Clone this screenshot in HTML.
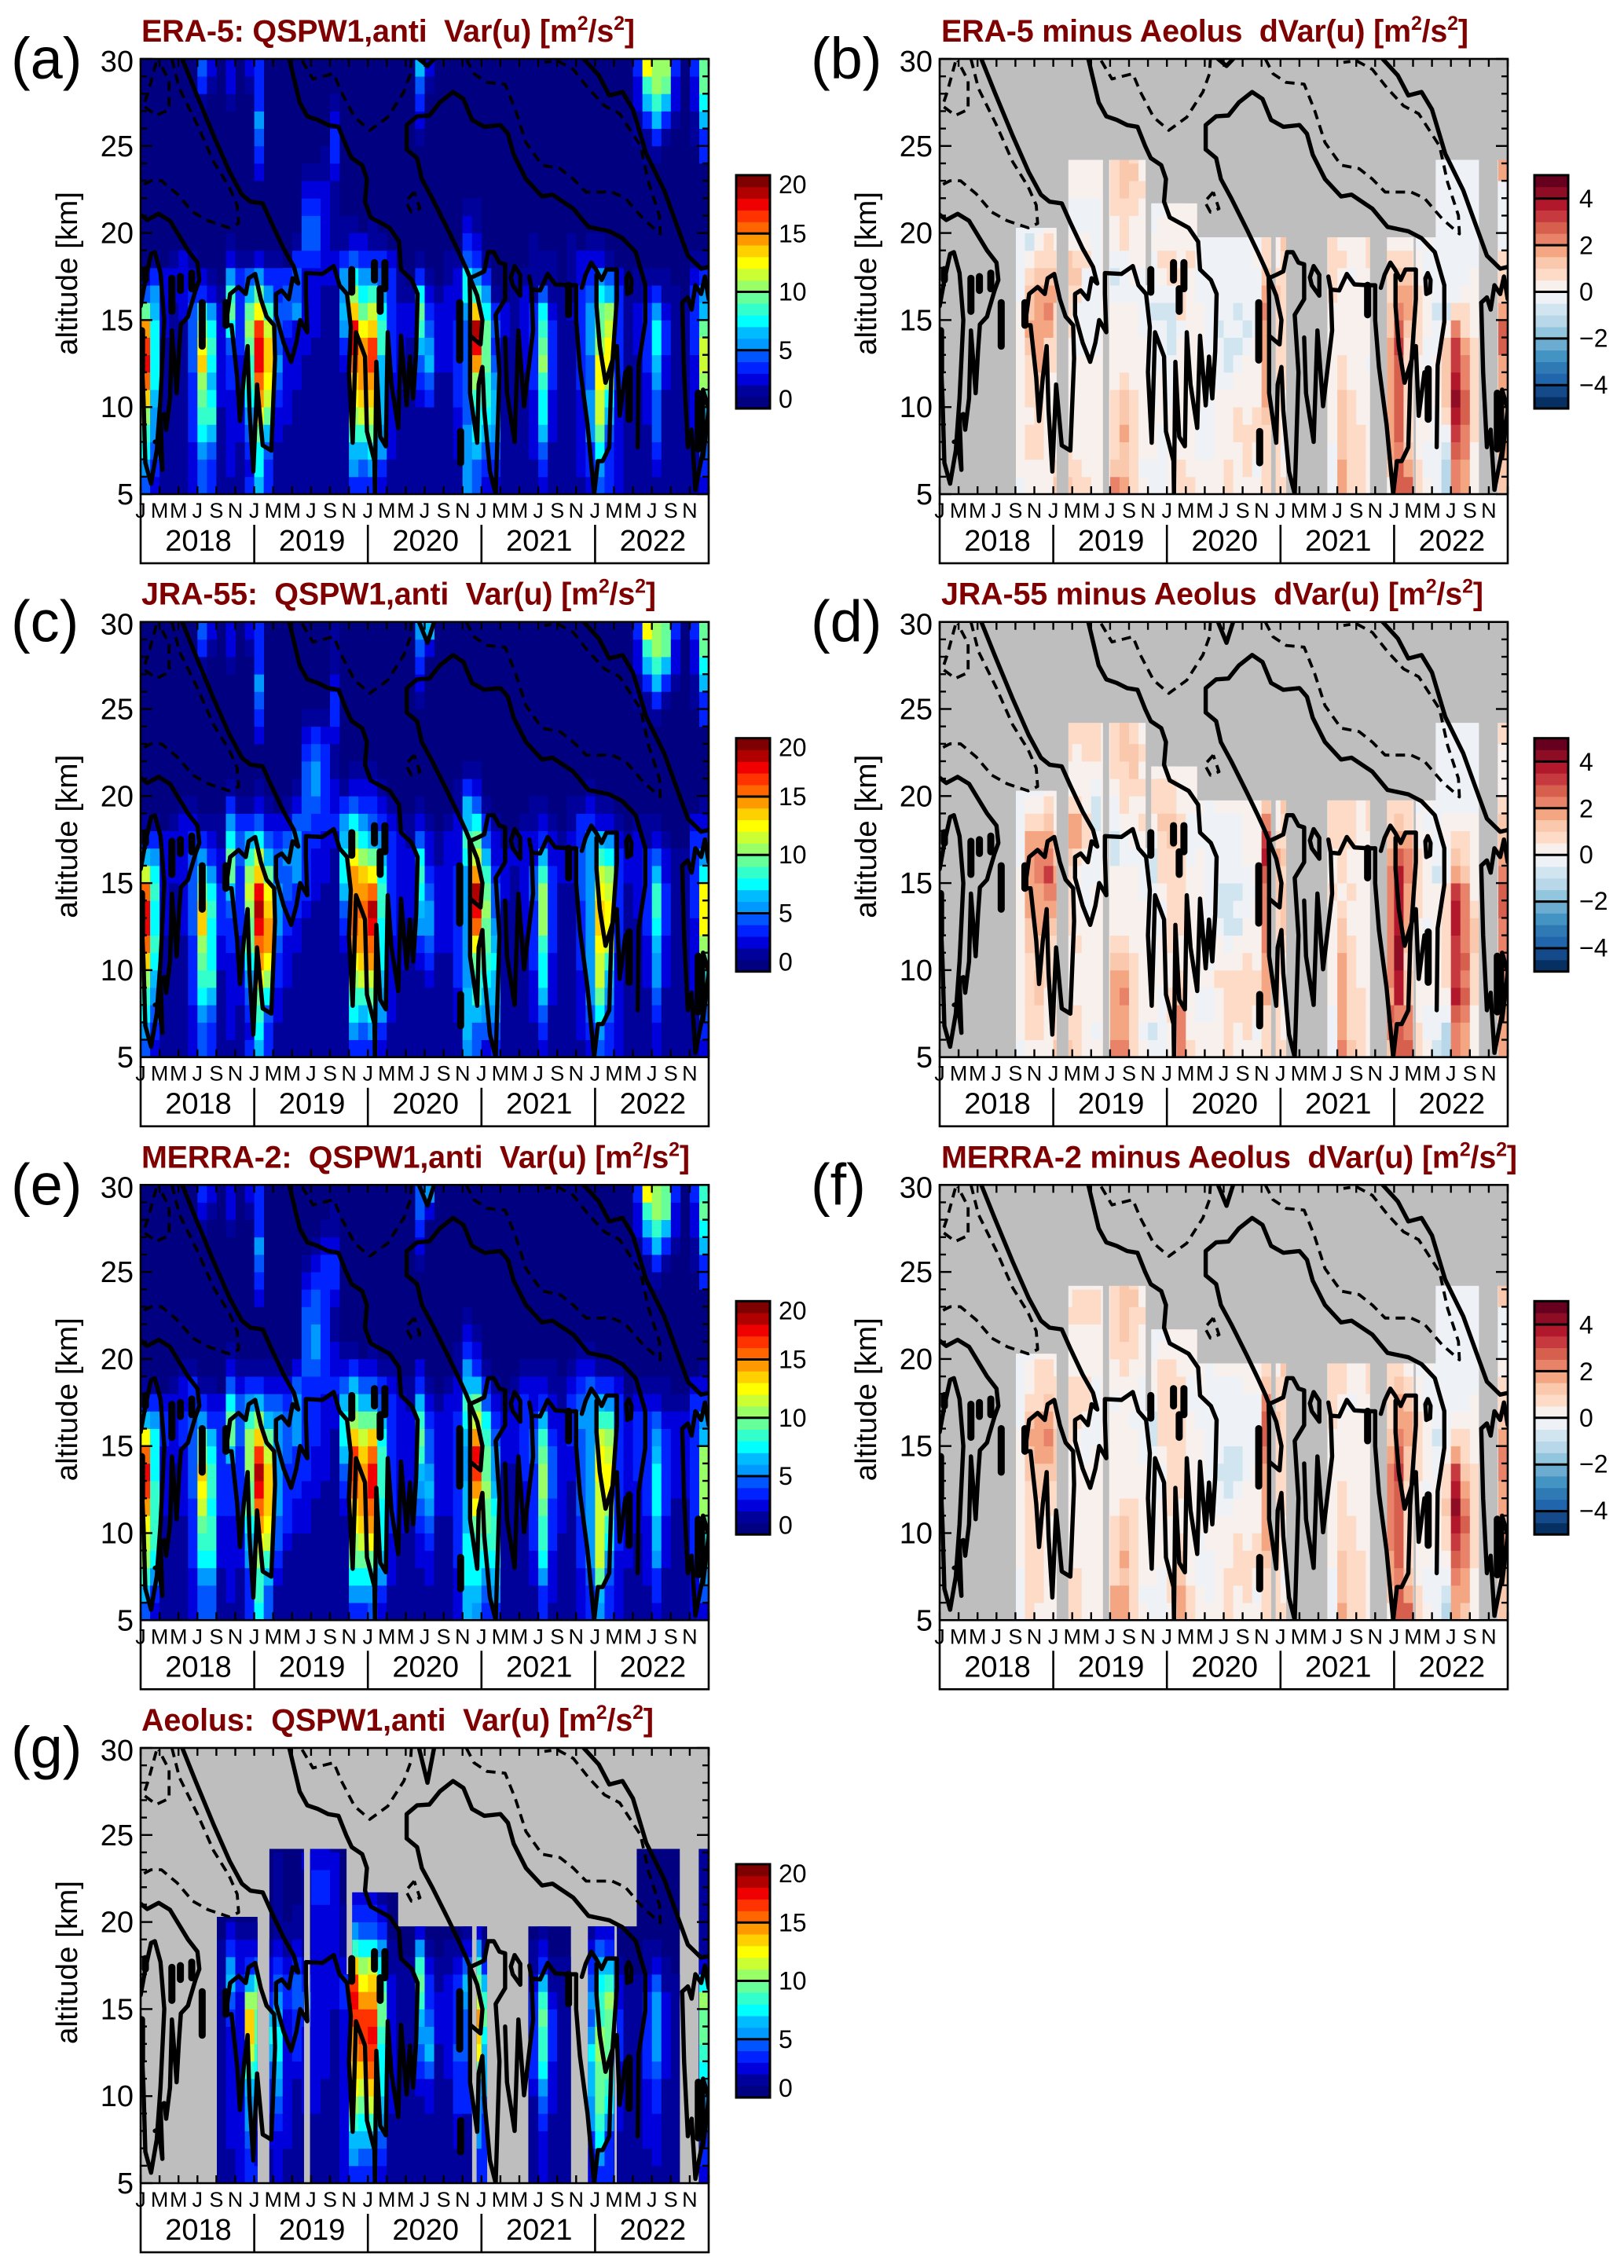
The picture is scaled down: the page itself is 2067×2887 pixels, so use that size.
<!DOCTYPE html>
<html lang="en">
<head>
<meta charset="utf-8">
<title>QSPW1 anti variance: reanalyses and Aeolus</title>
<style>
html,body{margin:0;padding:0;background:#fff;}
svg{display:block;}
text{font-family:"Liberation Sans",sans-serif;fill:#000;white-space:pre;}
.ttl{font-weight:bold;fill:#7f0000;font-size:39.5px;}
</style>
</head>
<body>
<svg id="chart" xmlns="http://www.w3.org/2000/svg" width="2067" height="2887" viewBox="0 0 2067 2887"></svg>
<script>
/* ---------- categories and tick labels ---------- */
const yearLabels=["2018","2019","2020","2021","2022"];
const monthLabels=["J","M","M","J","S","N"];
const altitudeTicks=[5,10,15,20,25,30];
const varBarTicks=[0,5,10,15,20];
const diffBarTicks=[-4,-2,0,2,4];

/* Aeolus coverage windows: start month, end month, top altitude (km) */
const coverageStart=[8.05,13.6,17.9,21.7,22.35,27.2,35.5,40.95,47.25,50.3,52.4,58.95];
const coverageEnd=[12.35,17.25,21.75,22.35,27.2,35.0,36.6,45.45,50.05,52.4,56.95,60];
const coverageTop=[20.3,24.2,24.2,17,21.7,19.75,19.75,19.75,19.75,19.75,24.2,24.2];

/* monthly profiles, index 0 = 5-6 km going upward; omitted upper bins are 0 */
const era5Var=[
[4,5,7,8,10,13,15,17,16,14,9,4,2],[2,3,4,5,5,6,7,7,7,7,6,5,3,1],[1,1,1,1,1,1,1,1,1,2,2,2,2],[1,1,1,1,1,1,1,1,1,1,1,2,2,1],[1,1,1,1,1,1,1,1,1,1,2,2,2,2],[2,2,2,3,3,3,3,4,4,4,4,3,2,1],[4,4,5,7,8,9,10,13,12,10,8,3,2,0,0,0,0,0,0,0,0,0,1,3,4],[3,3,4,6,8,7,6,7,8,7,5,2,1,0,0,0,0,0,0,0,0,0,0,1,2],[1,1,1,1,1,2,2,2,2,2,2,1],[1,2,2,2,2,2,3,3,4,7,9,8,5,2,1,0,0,0,0,0,0,0,1,2,2],[1,1,1,2,2,2,2,2,3,3,3,3,3,1],[3,2,3,4,5,7,8,8,9,10,9,6,4,1,0,0,0,0,0,0,0,0,0,1,2],
[6,7,7,9,12,14,15,17,17,16,12,9,5,2,0,0,0,0,2,3,4,5,3,3,3],[3,3,4,6,9,11,12,13,13,11,8,5,3,1],[1,1,1,2,2,3,4,5,4,4,4,3,3,1],[1,1,1,1,2,2,2,2,2,3,4,4,3],[1,1,1,1,1,1,2,2,2,2,5,4,4,3,1],[1,1,1,1,1,1,1,1,2,2,2,2,2,3,4,4,3,2,1],[1,1,1,1,1,1,1,1,1,2,2,2,2,3,4,4,3,2,1],[1,1,1,1,1,1,1,1,1,1,1,1,2,2,2,2,2,2,1,1],[1,1,1,1,1,1,1,1,1,1,1,1,2,2,1,1,1,1,2,3,3,2,1],[1,1,1,1,1,1,1,2,3,5,6,5,5,3,1,1],[3,5,6,8,10,12,13,15,17,17,13,10,7,4,2,1],[3,4,6,8,11,13,14,14,14,12,9,7,5,3,2],
[3,5,7,9,11,13,14,16,16,13,11,8,5,3,1,1],[2,3,5,5,6,6,6,6,8,8,7,5,4,3,1],[1,1,2,2,2,2,2,3,3,3,3,3,3,2],[1,1,1,1,1,1,2,2,2,2,2,1,1],[1,1,1,1,1,1,1,1,1,2,2,1],[1,1,1,1,1,2,3,4,6,8,9,7,3,1,0,0,0,0,0,0,1,2,3,4,6],[1,1,1,1,1,3,4,6,5,4,3,2,1,0,0,0,0,0,0,0,0,0,0,1,2],[1,1,1,1,1,1,1,2,2,2,2,1],[1,1,1,1,1,1,1,2,2,2,2,2,1,1],[1,1,2,2,2,3,3,3,3,3,2,2,2,1],[5,5,5,5,4,4,4,4,4,4,5,7,7,4,3,2,1],[4,4,6,7,7,8,10,14,17,18,13,8,5,3,2,1,1],
[2,3,4,6,7,8,8,9,9,9,7,5,3,1],[2,3,4,5,6,6,5,4,3,4,3,1],[1,1,1,1,1,1,1,1,1,2,2],[1,1,1,1,1,1,1,1,1,1,1,1,1],[1,1,1,1,1,1,1,2,2,2,2,2,1],[1,1,2,2,2,2,3,3,3,3,3,1,1,1,1],[2,3,4,6,7,7,8,10,9,8,7,4,1,1],[1,1,1,2,2,2,3,3,3,3,2,1,1,1],[1,1,1,1,1,1,1,1,1,1,1,1],[1,1,1,1,1,1,1,1,1,1,2,1,1,1,1],[1,2,2,2,2,2,3,3,3,3,3,3,2,2],[2,3,3,5,5,5,4,4,5,5,5,4,3,2,1],
[4,5,7,9,11,11,12,12,10,9,9,7,5,2,1],[3,3,3,4,6,7,10,12,12,11,10,6,4,1],[2,2,2,2,2,2,3,3,3,3,3,3,2],[1,1,1,1,1,1,1,1,1,1,1,1],[1,1,1,1,1,1,1,1,2,2,2,1,1,0,0,0,0,0,0,0,1,1,2,2,3],[1,1,1,1,2,2,2,3,3,3,3,2,1,0,0,0,0,0,0,1,1,3,6,8,12],[1,2,3,4,4,4,5,6,7,7,5,3,1,0,0,0,0,0,0,1,3,6,8,10,10],[1,1,1,1,1,1,2,2,3,3,2,1,1,0,0,0,0,0,0,0,1,3,6,9,10],[1,1,1,1,1,1,1,1,1,1,1,1,0,0,0,0,0,0,0,0,0,1,2,2,3],[1,1,1,1,1,1,1,1,1,1,1],[1,1,1,2,2,2,2,2,3,3,3,3,2,1,0,0,0,0,0,0,1,1,2,2,3],[2,3,4,5,6,8,10,11,11,9,6,5,3,1,0,0,0,0,0,3,3,6,7,9,9]
];
const jra55Var=[
[4,5,7,8,10,13,15,17,17,15,11,6,3,1],[2,3,4,5,6,7,8,7,7,8,7,5,3,1],[1,1,1,1,1,1,1,2,2,2,2,2,2],[1,1,1,1,1,1,1,1,1,1,2,2,2,1],[1,1,1,1,1,1,1,2,2,2,2,2,2,2,1],[2,2,2,3,3,3,3,4,4,4,4,4,3,2,1],[4,4,5,7,8,9,10,13,13,10,8,5,3,1,0,0,0,0,0,0,0,0,1,3,4],[3,3,4,6,8,7,7,7,8,7,5,3,2,1,0,0,0,0,0,0,0,0,0,1,2],[1,1,1,1,1,2,2,3,3,3,2,2,1,1],[1,2,2,2,2,2,3,3,4,6,9,9,7,5,3,1,0,0,0,0,0,0,1,2,2],[1,1,1,2,2,2,2,3,3,3,3,4,4,3,1],[3,2,3,4,5,7,9,9,10,11,10,8,6,3,1,0,0,0,0,0,0,0,0,1,2],
[6,7,8,9,12,14,15,17,18,17,13,11,7,4,2,1,0,0,2,3,4,5,3,3,3],[3,3,4,7,10,12,14,14,13,12,9,6,4,2,1],[1,1,2,2,3,3,4,5,5,5,4,4,3,2],[1,1,1,1,2,2,2,3,3,4,4,5,4,2,1],[1,1,1,1,1,1,2,2,3,3,5,5,5,4,2,1],[1,1,1,1,1,1,1,1,2,3,3,3,3,4,4,4,4,3,2,1],[1,1,1,1,1,1,1,1,1,2,2,2,3,3,4,5,5,4,3,1],[1,1,1,1,1,1,1,1,1,1,2,2,2,3,3,3,3,3,2,1],[1,1,1,1,1,1,1,1,1,1,1,1,2,3,2,2,1,1,2,3,3,2,1,1,1],[1,1,1,1,1,1,2,3,4,6,7,7,6,5,3,1],[3,5,7,8,10,12,14,15,15,14,14,12,9,7,4,2,1],[3,4,6,8,11,13,14,14,15,14,13,10,7,5,3,2,1],
[3,5,7,9,11,14,15,17,18,15,12,9,6,4,3,2,1],[2,3,5,5,6,7,7,7,8,8,7,6,5,3,2,1],[1,1,2,2,2,2,2,3,3,3,3,3,3,2,1],[1,1,1,1,1,2,2,2,2,2,2,2,2,1],[1,1,1,1,1,1,1,1,2,2,2,2,1,1],[1,1,1,1,1,2,3,5,6,7,8,7,4,2,1,0,0,0,0,0,1,2,3,4,5],[1,1,1,1,2,3,4,5,5,4,3,2,2,1,0,0,0,0,0,0,0,0,0,2,6],[1,1,1,1,1,1,2,2,2,2,2,1,1],[1,1,1,1,1,1,2,2,2,2,2,2,2,1],[1,1,2,2,3,3,3,3,3,3,3,2,2,2,1,1],[5,6,6,6,5,5,5,5,5,5,5,7,8,6,6,3,1],[4,4,6,8,8,9,12,15,17,18,14,11,9,7,4,2,1],
[2,4,5,6,7,8,9,9,10,9,8,6,4,3,1],[3,4,5,6,6,7,6,5,4,4,3,2,2,1],[1,1,1,1,1,1,1,1,1,2,2,2,1],[1,1,1,1,1,1,1,1,1,1,1,2,1],[1,1,1,1,1,1,1,2,2,2,2,2,2,1],[1,1,2,2,2,3,3,3,3,4,4,2,2,1,1],[2,3,4,6,7,7,8,10,10,10,8,6,3,2,1],[1,1,1,2,2,2,3,3,3,3,3,2,2,1],[1,1,1,1,1,1,1,1,1,1,2,2,1],[1,1,1,1,1,1,1,1,1,1,2,2,2,1,1],[1,2,2,2,2,3,3,3,3,4,4,4,3,3,1],[2,3,4,5,5,5,5,5,5,5,5,5,5,3,2,1],
[4,5,7,9,11,11,12,13,13,12,11,8,6,2,1],[3,3,4,5,6,8,11,12,12,11,10,7,5,2,1],[2,2,2,2,2,2,3,3,3,3,3,3,2,1],[1,1,1,1,1,1,1,1,1,1,2,2,1],[1,1,1,1,1,1,1,1,2,2,2,2,2,1,0,0,0,0,0,0,1,1,2,2,3],[1,1,1,1,2,2,2,3,3,3,3,3,1,1,0,0,0,0,0,1,1,3,6,8,12],[2,2,3,4,5,5,6,7,8,8,6,4,2,1,0,0,0,0,0,1,3,6,8,10,10],[1,1,1,1,2,2,2,3,3,3,2,2,1,0,0,0,0,0,0,0,1,3,6,9,9],[1,1,1,1,1,1,1,1,1,1,1,1,0,0,0,0,0,0,0,0,0,1,2,2,3],[1,1,1,1,1,1,1,1,1,1,1,1],[1,1,1,2,2,2,2,2,3,3,3,3,3,2,0,0,0,0,0,0,1,1,2,2,3],[2,3,4,5,7,9,10,12,12,12,7,5,3,2,1,0,0,0,0,3,3,6,7,9,9]
];
const merra2Var=[
[4,6,8,10,11,12,14,16,17,15,12,6,3,1],[2,3,5,7,8,8,8,8,7,7,7,5,3,1],[1,1,1,1,1,1,2,2,2,2,3,3,2],[1,1,1,1,1,1,1,1,1,2,2,2,2,1],[1,1,1,1,1,1,2,2,2,2,3,3,2,2,1],[2,2,2,3,3,3,3,4,4,4,4,4,3,3,1],[4,4,5,7,8,9,11,12,13,10,9,5,3,1,0,0,0,0,0,0,0,0,1,2,3],[4,4,5,7,8,8,7,8,8,7,6,3,2,1,0,0,0,0,0,0,0,0,0,1,2],[1,1,1,2,2,2,3,3,3,3,3,3,2],[1,2,2,2,2,2,3,3,3,6,9,9,7,4,2,1,0,0,0,0,0,0,1,2,2],[1,1,1,2,2,2,3,3,3,3,4,4,4,2,1],[3,3,3,5,6,7,9,9,10,10,10,8,5,3,1,0,0,0,0,0,0,0,0,1,2],
[7,8,8,10,12,14,15,17,18,16,13,10,6,3,1,0,0,0,2,3,4,5,3,3,3],[4,4,6,8,11,12,13,13,13,11,9,6,4,2,1],[1,1,2,3,4,4,5,5,5,5,5,5,4,2,1],[1,1,1,1,2,3,3,3,3,4,4,4,3,2],[1,1,1,1,1,2,2,3,3,3,5,5,5,4,2],[1,1,1,1,1,2,2,2,3,3,3,3,3,3,4,4,4,4,3,2,1],[1,1,1,1,1,1,1,2,2,2,3,3,3,3,4,5,5,4,4,3,2,1],[1,1,1,1,1,1,1,1,2,2,2,2,2,3,3,3,3,3,3,3,3,2,1],[1,1,1,1,1,1,1,1,1,1,1,2,2,3,2,2,1,1,2,3,3,2,1,1],[1,1,1,1,1,1,2,3,4,6,7,7,6,4,2,1],[3,5,7,9,10,12,13,15,16,16,13,10,8,6,3,1],[3,5,7,9,11,13,14,14,14,13,11,9,6,4,2],
[4,5,7,9,12,14,15,17,17,15,13,9,6,4,2,1],[2,3,5,6,7,7,7,8,8,8,7,6,4,3,1],[1,1,2,2,2,3,3,3,3,3,3,3,3,2,1],[1,1,1,1,1,2,2,2,2,2,2,2,2,1],[1,1,1,1,1,1,1,2,2,2,2,2,1,1],[1,1,1,2,2,3,4,5,6,8,9,8,6,3,2,0,0,0,0,0,1,2,3,4,4],[1,1,2,2,3,4,5,6,5,4,4,3,2,1,0,0,0,0,0,0,0,0,0,2,5],[1,1,1,1,1,1,2,2,2,2,2,2,1],[1,1,1,1,1,1,2,2,2,2,2,2,2,1],[2,2,2,3,3,3,3,3,3,3,3,3,2,2,1,1],[6,6,7,7,7,6,6,6,5,5,6,7,8,6,5,3,2,1],[5,6,7,7,8,9,12,14,16,17,14,11,9,6,3,2,1],
[3,4,5,7,8,9,9,10,9,9,8,7,4,3,1],[3,5,6,7,8,8,7,6,5,5,4,3,2,1],[1,1,1,1,1,1,1,1,1,2,2,2,1],[1,1,1,1,1,1,1,1,1,2,2,2,2,1],[1,1,1,1,1,1,2,2,3,3,3,3,3,2,1],[1,1,2,2,3,3,3,3,3,4,4,3,2,2,1],[3,3,5,7,8,8,9,10,10,9,8,6,3,2,1],[1,2,2,2,3,3,3,4,4,4,3,2,2,1,1],[1,1,1,1,1,2,2,2,2,2,2,2,1,1],[1,1,1,1,1,1,1,1,2,2,3,3,3,2,1],[2,2,2,3,3,3,4,4,4,4,4,5,4,3,2,1],[3,3,4,5,5,5,5,5,5,5,5,5,5,4,2,1],
[5,6,9,11,11,11,11,11,12,12,11,8,6,3,1],[3,3,4,5,7,8,10,12,12,11,10,8,5,3,1],[2,2,2,2,3,3,3,3,3,3,3,3,3,2,1],[1,1,1,2,2,2,2,2,2,2,2,2,1],[1,1,1,1,1,2,2,2,3,3,3,3,2,1,0,0,0,0,0,0,1,1,2,2,3],[1,1,2,2,2,2,3,3,3,3,3,3,2,1,0,0,0,0,0,1,1,3,6,8,12],[2,3,3,5,6,6,7,7,7,6,5,4,2,1,0,0,0,0,0,1,3,6,8,10,10],[1,1,1,2,2,2,3,3,3,3,3,2,1,1,0,0,0,0,0,0,1,3,6,9,9],[1,1,1,1,1,1,1,2,2,2,2,2,1,0,0,0,0,0,0,0,0,1,2,2,3],[1,1,1,1,1,1,1,2,2,2,2,2,1],[2,2,2,3,3,3,3,3,3,3,3,3,3,2,0,0,0,0,0,0,1,1,2,2,3],[2,4,5,7,7,9,10,10,10,10,6,5,3,2,1,0,0,0,0,3,3,6,7,9,8]
];
const aeolusVar=[
[],[],[],[],[],[],[],[],[1,1,1,1,1,1,1,1,1,1,1,1,1,1],[1,1,2,2,2,2,2,2,2,3,4,6,5,3,2,1],[2,2,2,2,2,2,2,2,2,2,2,3,2,2,1],[3,3,4,5,5,6,8,11,13,13,10,6,3,2,1],
[3,2,2,3,4,5,7,8,9,9,10,8,4,2,1],[1,1,2,2,3,3,4,6,7,6,3,2,2,1],[2,2,2,3,4,5,6,7,7,6,5,4,3,2,1,1,1,1,1],[1,1,2,2,2,2,2,2,2,2,3,3,2,1,1],[1,1,1,1,1,1,2,3,3,3,4,4,3,2,1,1],[1,1,1,1,2,2,2,2,2,3,4,3,2,1,1,1,1,1,2],[1,1,1,1,2,2,2,2,2,2,2,2,2,2,2,2,3,3,2,2],[1,1,1,1,1,1,2,2,2,2,2,2,2,2,2,2,3,3,2,2],[1,1,1,1,1,1,1,1,1,1,2,2,2,2,2,2,2,2,2,1],[2,2,2,2,2,2,2,2,2,2,3,3,2,1,1,1],[3,5,6,8,10,12,13,14,14,16,17,16,13,8,5,3,2,1,1,1],[3,4,6,7,9,11,13,15,16,16,14,12,10,7,4,3,2,1],
[3,4,6,8,11,13,15,16,17,16,14,13,11,7,4,3,2,1],[2,3,4,5,6,7,7,7,8,9,9,8,7,5,3,2,1,1],[1,1,1,1,2,2,2,2,2,2,2,2,1,1],[1,1,1,1,1,1,1,1,1,1,1,1,1],[1,1,1,1,1,1,1,1,1,1,1,1,1],[1,1,1,1,1,2,3,4,5,6,8,9,8,5,2,1],[1,1,1,1,2,2,4,6,5,4,3,3,2,1],[1,1,1,1,1,1,1,1,2,2,2,1,1],[1,1,1,1,1,1,2,2,2,2,2,2,1,1],[1,1,2,2,3,3,3,4,3,3,3,3,2,1],[1,1,1,1,3,3,3,4,4,4,5,6,4,2,1],[3,3,5,5,5,5,9,12,13,14,11,9,8,5,2,1],
[3,3,3,3,4,6,6,6,7,9,8,6,3,1],[],[],[],[],[1,1,1,1,1,2,3,3,3,3,3,2,1,1],[2,2,2,3,4,5,7,8,8,9,8,6,3,2,1],[1,1,1,1,2,2,2,3,3,3,2,1,1],[1,1,1,1,1,1,1,1,1,1,1,1,1],[1,1,1,1,1,1,1,1,1,1,1,1,1],[],[2,2,3,5,5,6,6,7,5,4,5,4,3,2,1],
[3,5,7,8,9,9,9,10,10,8,8,7,6,4,2,1],[3,3,3,5,7,8,9,9,9,9,10,8,6,3,2,1],[1,1,1,2,2,2,2,3,3,3,2,2,1],[1,1,1,1,1,1,1,1,1,1,1,1],[1,1,1,1,1,1,1,1,1,1,1,1],[1,1,2,2,2,2,3,3,3,3,3,2,1,1],[1,2,2,2,3,3,4,5,5,5,5,4,2,1],[1,1,1,1,1,1,2,2,2,2,2,1,1],[1,1,1,1,1,1,1,1,1,1,1,1],[],[],[2,3,3,4,5,6,7,8,9,9,10,7,2,1,1,1,1,1,1,1]
];
const era5Diff=[
[],[],[],[],[],[],[],[],[-.2,0,0,0,0,0,0,0,0,0,0,-.2,-.2,-.2,-.2,-.2],[0,0,.7,.7,0,.7,.7,.7,1.2,1.7,1.2,1.2,.7,0,-.7,-.2],[0,0,.7,.7,.7,.7,1.2,1.7,1.7,1.7,1.7,1.7,1.2,.7,.2,-.2],[.2,0,0,0,0,0,0,.7,.7,1.7,2.2,1.7,1.2,.7,.7,0],
[1.2,.7,0,0,0,0,0,.7,.7,.7,.7,1.7,1.2,.7],[1.2,.7,.7,0,0,0,0,0,0,.7,.7,.7,1.2,1.2,0,-.2,-.2,0,0,0],[.7,.7,0,0,0,0,0,0,-.2,0,-.2,.7,1.2,.7,0,-.2,-.2,0,0,0],[.7,.2,0,0,0,0,0,0,-.2,-.2,-.2,-.2,-.2,.7,0,-.2,-.2,0,0,0],[0,0,0,0,0,0,0,0,-.2,-.2,-.2,-.2,-.2,-.2,-.2,-.2,-.2,0,0,0],[],[2.2,1.2,.7,.7,.7,.7,0,0,0,0,0,-.2,-.7,-.2,0,0,.7,.7,.7,.7],[1.7,1.2,1.2,1.7,1.2,1.2,.7,0,0,0,0,-.2,-.2,-.2,.7,.7,.7,1.2,1.2,1.2],[.7,.7,.7,.7,.7,.7,0,0,0,0,0,-.2,0,0,0,0,.7,.7,1.2,.7],[0,-.2,0,0,0,0,0,0,0,-.2,-.2,-.2,-.2,0,0,0,0,.7,0,0],[-.2,-.2,0,0,0,-.2,-.2,-.2,-.2,-.2,-.7,-.2,-.2,-.2,0,-.2,-.2],[-.2,-.2,-.2,-.2,0,0,0,-.2,-.2,-.2,-.7,-.2,0,.7,0,0,-.2],
[0,0,0,0,0,-.2,-.2,-.2,-.7,-.7,-.7,-.2,.7,.7,0,0,0],[.7,.7,.2,0,0,0,0,0,0,-.2,.7,.7,.7,0,0,0,0],[.7,0,0,0,0,0,0,0,0,0,0,0,0,.7,0,0],[0,0,-.2,-.2,-.2,0,0,0,0,0,0,-.2,-.2,-.2,-.2],[0,0,-.2,-.2,-.2,-.2,0,0,-.2,-.2,-.2,-.2,-.2,-.2,-.2],[0,0,0,0,0,0,-.2,-.2,-.2,-.7,-.2,-.2,-.2,-.2,-.2],[.7,.7,0,0,0,0,-.2,-.7,-.7,-.2,-.2,-.2,-.2,-.2,-.2],[0,0,0,.7,.7,0,0,-.2,-.7,-.2,-.7,-.2,-.2,-.2,-.2],[0,.7,.7,.7,0,0,0,0,-.2,-.7,-.2,-.2,-.2,-.2,-.2],[0,-.2,.2,.7,.7,0,0,0,0,-.2,-.2,-.2,-.2,0,-.2],[.7,.7,.7,.7,1.2,1.7,1.7,1.7,1.7,1.7,2.2,1.7,1.2,.7,.7],[.7,.7,.7,.7,.7,.7,.7,.7,.7,.7,.7,1.2,.7,0,0],
[.7,0,-.2,0,0,0,.7,.7,.7,.7,.7,.7,.7,.7,1.2],[],[],[],[],[-.2,-.2,-.2,0,0,.2,0,0,0,0,0,.7,.7,.7,.7],[1.7,1.7,1.2,1.2,1.2,1.2,.7,.7,0,0,0,0,0,.7,0],[.7,.7,.7,.7,.7,.7,0,0,0,0,0,0,-.2,0,0],[.7,.7,.7,.7,.2,0,0,0,0,0,0,0,0,0,0],[0,0,0,0,0,0,0,-.2,0,0,0,0,0,.7,.7],[],[0,1.2,1.7,1.7,1.7,1.7,1.7,1.7,1.7,1.2,1.2,.7,.7,.7,0],
[2.7,2.7,2.2,2.7,2.7,2.7,2.7,2.7,3.2,2.7,2.2,1.7,1.2,.7,0],[2.7,1.7,1.2,.7,.7,.7,.7,.7,.7,1.2,1.7,1.7,1.2,.7,0],[.7,.7,0,0,0,0,0,0,.7,.7,.7,.7,0,0,-.2],[0,-.2,-.2,0,0,0,-.2,-.2,-.2,0,0,0,-.2,-.2],[-.2,-.2,-.2,-.2,-.2,0,0,0,-.2,-.2,-.7,-.2,-.2,-.2,-.2,-.2,-.2,-.2,-.2,-.2],[-1.5,-1.5,-.7,-.2,.7,1.2,1.2,1.2,1.2,0,-.7,-.2,-.2,-.2,-.2,-.2,-.2,-.2,-.2,-.2],[2.2,2.2,2.7,3.2,3.7,4.2,3.7,3.2,3.2,2.2,.7,-.2,-.2,-.2,-.2,-.2,-.2,-.2,-.2,-.2],[1.7,1.7,2.2,2.2,2.7,2.7,2.2,2.2,1.7,.7,.7,0,-.2,-.2,-.2,-.2,-.2,-.2,-.2,-.2],[0,0,0,.7,.7,.7,.7,.7,.7,0,0,0,0,-.2,-.2,-.2,-.2,-.2,-.2,-.2],[],[],[1.2,1.2,1.7,1.7,1.2,1.2,1.7,1.7,2.7,2.7,1.7,1.2,.7,.7,-.2,-.2,-.2,-.2,1.7,1.7]
];
const jra55Diff=[
[],[],[],[],[],[],[],[],[-.2,0,0,0,0,0,0,0,0,0,0,-.2,-.2,-.2,-.2,-.2],[0,.7,.7,.7,.7,.7,1.2,1.2,1.7,1.7,1.7,1.7,1.7,.7,0,-.2],[0,.7,.7,1.2,1.2,.7,1.2,1.7,1.7,1.7,2.2,2.2,1.7,.7,0,-.2],[0,0,0,0,.7,.7,.7,1.2,1.7,2.2,3.2,2.2,1.7,1.2,.7,0],
[1.2,.7,.7,0,0,0,.7,1.2,1.7,2.2,1.7,1.2,.7],[1.2,.7,.7,.7,0,0,0,.7,.7,.7,.7,1.2,1.7,1.7,.7,0,0,.7,.7,.7],[.7,.7,.7,0,0,0,.7,0,0,.2,0,.7,1.7,1.7,.7,0,0,0,.7,.7],[0,0,0,0,0,0,0,0,-.2,-.2,-.2,0,.7,.7,0,0,0,.7,.7,.7],[0,-.2,0,0,0,0,0,0,0,0,-.2,-.2,-.2,-.7,-.7,-.2,0,.7,.7,.7],[],[2.2,1.7,1.7,1.7,1.7,1.2,.7,0,0,0,0,-.7,-.7,-.2,-.2,0,.7,.7,.7,.7],[2.2,1.7,1.7,2.2,1.7,1.2,.7,0,0,0,0,-.2,-.2,0,.7,.7,.7,1.2,1.2,1.2],[.7,.7,.7,.7,.7,.7,0,0,0,0,0,-.2,0,0,0,.7,1.2,1.2,.7,.7],[0,-.2,0,0,0,0,0,0,0,-.2,-.2,-.2,0,.7,0,.7,0,.7,0,0],[-.2,-.7,0,0,0,-.2,-.2,-.2,-.2,-.2,-.7,-.7,-.2,0,.7,.7,0,.2],[-.2,-.2,-.2,-.2,0,0,0,-.2,-.2,0,.7,.7,.7,1.2,.7,.7],
[0,0,.7,.7,0,0,.7,.7,.7,.7,.7,.7,1.2,1.2,.7,.7,0],[2.2,2.2,2.2,1.2,.7,0,0,.7,.7,.7,.7,.7,.7,.7,0,0],[.7,0,0,0,0,0,0,0,0,0,0,-.2,-.2,-.2,0,0],[0,0,-.2,-.2,0,0,0,0,0,0,0,0,-.2,-.2],[0,0,-.2,-.2,0,-.2,0,-.2,-.2,-.2,-.2,-.2,-.2,-.2,-.2],[0,0,0,0,.7,0,0,-.2,-.7,-.7,-.2,-.2,-.2,-.2],[.7,.7,.7,.7,.7,0,-.2,-.7,-.7,-.7,-.2,-.2,-.2,-.2],[0,0,.7,.7,.7,0,0,-.7,-.2,-.7,-.2,-.2,-.2,-.2],[0,.7,.7,.7,.7,.7,0,0,-.2,-.2,-.2,0,0,0],[0,-.2,0,.7,.7,0,0,0,0,-.2,0,0,0,0],[.7,.7,.7,1.7,1.7,1.7,2.2,2.2,2.2,2.2,2.7,3.7,3.2,2.2,1.2],[.7,.7,.7,.7,.7,.7,.7,.7,.7,1.2,1.2,1.7,.7,0,0],
[.7,0,0,-.2,0,0,.7,1.2,1.2,1.2,.7,1.2,.7,.7,1.2],[],[],[],[],[-.2,-.2,-.2,0,0,0,0,0,0,.7,0,0,.7,.7,.7],[2.2,1.7,1.7,1.7,1.7,1.7,1.2,1.2,.7,0,.7,.7,.7,.7,.7],[1.2,.7,.7,.7,.7,.7,.7,0,0,.7,0,0,.7,.7,.7],[.7,.7,.7,.7,.2,0,0,0,0,0,0,0,0,.2,0],[0,0,0,0,0,0,0,0,0,0,0,0,0,.7,.7],[],[1.2,2.2,2.7,1.7,2.2,2.2,2.2,2.2,2.2,2.2,2.2,1.7,1.2,.7,.7],
[2.7,2.7,2.2,3.7,3.7,4.2,4.2,3.7,3.7,3.7,3.7,2.7,1.7,1.2,.7],[2.7,2.2,2.2,1.2,1.2,.7,1.2,1.7,1.7,1.7,2.2,2.2,1.7,.7,.7],[.7,.7,0,0,0,0,0,0,.7,.7,.7,.7,0,0,-.2],[0,-.2,-.2,0,0,0,-.2,-.2,0,0,0,0,0,-.2],[-.7,-.2,-.2,0,0,0,0,0,0,0,-.7,-.2,-.2,-.2,-.2,-.2,-.2,-.2,-.2,-.2],[-1.2,-1.5,-.2,0,.7,.7,.7,.7,.7,.7,-.2,-.2,0,0,-.2,-.2,-.2,-.2,-.2,-.2],[2.2,2.2,2.7,3.7,3.2,3.2,3.2,3.7,3.7,3.2,1.7,1.2,.7,0,-.2,-.2,-.2,-.2,-.2,-.2],[1.7,1.7,2.2,2.7,2.2,2.7,2.2,2.2,2.2,2.2,1.2,.7,.7,0,-.2,-.2,-.2,-.2,-.2,-.2],[0,0,0,.7,.7,.7,1.2,1.2,.7,0,0,0,0,0,-.2,-.2,-.2,-.2,-.2,-.2],[],[],[1.7,1.7,1.7,1.7,1.7,2.2,2.2,2.2,2.7,2.7,2.2,1.7,1.2,1.2,.7,0,0,0,.7,.7]
];
const merra2Diff=[
[],[],[],[],[],[],[],[],[-.2,-.2,-.2,0,0,0,0,0,0,0,0,-.2,-.2,-.2,-.2,-.2],[.7,.7,.7,.7,.7,.7,.7,.7,1.2,1.2,1.7,1.2,.7,0,0,-.2],[0,.7,.7,.7,.7,.7,.7,1.2,1.2,1.7,1.7,1.7,.7,.7,.7,0],[0,0,0,0,0,0,.7,.7,1.2,1.7,2.2,1.7,1.2,.7,.7,0],
[0,0,0,0,0,0,.7,.7,1.2,1.2,1.2,.7,.7,.7],[.7,.7,.7,0,0,0,0,0,0,0,.7,.7,.7,.7,0,0,0,.7,0,0],[.7,.7,.7,0,0,0,0,0,0,0,0,.7,.7,.7,0,0,0,.7,.7,0],[0,0,0,0,0,0,0,0,0,-.2,-.2,0,.7,.7,0,0,0,.7,.7,0],[0,0,0,0,0,0,0,0,0,0,-.2,-.2,-.2,-.2,0,0,0,.7,.7,0],[],[1.7,1.7,.7,.7,.7,.7,0,0,0,0,0,0,-.2,0,0,.7,.7,.7,.7,.7],[1.7,1.7,1.2,1.7,1.2,1.2,.7,0,0,0,0,0,0,0,.7,.7,1.2,1.2,1.2,1.2],[.7,.7,.7,.7,.7,.7,.7,0,0,0,0,-.2,0,0,0,.7,.7,.7,1.2,.7],[0,-.2,0,0,0,0,0,0,0,-.2,-.2,-.2,-.2,-.2,0,0,0,.7,0,0],[-.2,-.2,0,0,0,-.2,-.2,-.2,-.2,-.2,-.7,-.7,-.2,0,0,-.2,-.2],[-.2,-.2,-.2,0,0,0,0,-.2,-.2,0,.7,.7,.7,.7,.7,0,-.2],
[0,.7,.7,0,0,0,.7,.7,.7,.7,.7,.7,.7,.7,.7,0,0],[1.7,1.7,1.2,1.2,.7,0,0,.7,.7,.7,.7,.7,.7,.7,0,0],[.7,.7,0,0,0,0,0,0,0,0,0,0,-.2,-.2,0,0],[0,0,-.2,-.2,-.2,0,0,0,0,0,0,-.2,-.2],[0,-.2,-.2,-.2,0,0,0,-.2,-.2,-.2,-.2,-.2,-.2,-.2,-.2],[0,0,0,0,0,0,-.2,-.2,-.7,-.2,-.2,-.2,-.2,-.2],[.7,.7,.7,0,0,0,-.2,-.7,-.7,-.7,-.2,-.2,-.2,-.2],[0,0,.7,.7,.7,0,0,-.2,-.7,-.7,-.2,-.2,-.2,-.2],[0,.7,.7,.7,0,0,0,0,-.2,-.2,-.2,-.2,-.2],[0,-.2,0,.7,.7,0,0,0,0,-.2,-.2,-.2,-.2],[.7,.7,.7,1.2,1.7,1.7,1.7,1.7,1.7,2.2,2.7,2.7,2.2,1.2,.7],[.7,.7,.7,.7,.7,.7,.7,.7,.7,.7,.7,1.2,.7,.7,0],
[.7,0,-.2,0,0,0,.7,.7,.7,.7,.7,.7,.7,.7,1.2],[],[],[],[],[-.2,-.2,-.2,0,0,0,0,0,0,0,0,.7,.7,.7,.7],[1.7,1.2,1.2,1.2,.7,.7,.7,.7,0,0,0,0,0,.7,.7],[.7,.7,.7,.7,.7,.7,0,0,0,0,0,0,-.2,0,0],[.7,.7,.7,.7,0,0,0,0,0,0,0,0,0,0,0],[0,0,0,0,0,0,0,0,0,0,0,0,0,.7,.7],[],[0,1.2,1.7,1.7,2.2,2.2,2.2,2.2,2.2,1.7,1.2,.7,.7,.7,.7],
[2.7,2.7,2.2,2.7,2.7,2.7,2.7,2.7,3.2,2.7,2.2,1.7,1.7,1.2,.7],[2.7,1.7,1.2,.7,.7,.7,.7,.7,1.2,1.2,1.7,1.7,1.2,.7,0],[.7,.7,0,0,0,0,0,0,.7,.7,.7,.7,0,0,-.2],[0,-.2,-.2,0,0,0,-.2,-.2,0,0,0,0,-.2,-.2],[-.2,-.2,-.2,-.2,0,0,0,0,-.2,-.2,-.7,-.2,-.2,-.2,-.2,-.2,-.2,-.2,-.2,-.2],[-1.2,-.7,-.2,0,.7,.7,1.2,.7,.7,0,-.2,-.2,-.2,-.2,-.2,-.2,-.2,-.2,-.2,-.2],[1.7,1.7,2.2,2.7,3.2,3.7,4.2,3.7,3.2,1.7,.7,0,-.2,-.2,-.2,-.2,-.2,-.2,-.2,-.2],[1.2,1.7,1.7,2.2,2.2,2.7,2.2,1.7,1.2,.7,.7,0,-.2,-.2,-.2,-.2,-.2,-.2,-.2,-.2],[0,0,0,.7,.7,.7,.7,.7,.7,0,0,0,0,-.2,-.2,-.2,-.2,-.2,-.2,-.2],[],[],[1.2,1.2,1.2,1.7,1.7,1.2,1.7,1.7,2.2,2.2,1.7,1.2,.7,.7,0,-.2,-.2,-.2,1.2,1.2]
];

/* solid contours as [month, altitude km] */
const contourSolid=[
[[0,15.8],[.5,17.3],[1.1,18.8],[1.5,18.9],[2.1,17.7],[2.5,15],[2.1,10.5],[1.7,7.5],[1.1,5.6],[.5,6.8],[.3,10.5],[0,14.4]],
[[0,21.05],[.7,20.75],[1.9,21.1],[3.1,20.7],[4.05,19.85],[5,19],[6,18.3],[6.2,17.3],[5.8,16.7],[5.2,15.6],[5,15.2],[4.25,14.75],[4.05,13.2],[3.8,10.8],[3.3,14.4],[3.1,10.5],[2.7,8.7],[2.5,9.6],[2.1,9.5],[2.3,6.4],[1.9,8.1],[1.5,8]],
[[9,14.7],[9.45,16.5],[10.35,16.9],[11.1,16.5],[11.4,17.4],[12.1,17.65],[12.7,16.2],[13.3,15.2],[14.1,14.7],[14.2,12.8],[13.8,7.5],[12.9,7.8],[12.3,11.3],[11.9,6.3],[11.5,9.8],[11.3,13.5],[10.9,11.7],[10.5,9.2],[10.2,11.7],[9.6,14.7],[9,14.7]],
[[4.4,30],[5.8,28.1],[7.7,25.6],[9.4,23.5],[10.7,22.2],[11.6,21.8],[12.9,21.7],[13.8,20.6],[15.1,19.1],[16.2,18.05],[16.65,17.1],[16.05,17.4],[15.65,16.2],[14.9,16.7],[14.3,16.5],[14.3,15.3],[15.1,13.7],[15.9,12.6],[16.45,13.7],[16.85,15],[17.6,14.3],[17.45,16.5],[17.45,17.7],[19.2,17.65],[20.4,18.1],[21,17],[21.8,16.5],[22.2,14.6],[22,12],[22.4,7.95],[22.75,14.3],[23.7,12.9],[23.9,8.6],[24.7,6.9],[24.75,5]],
[[15.7,30],[16.8,27.5],[17.6,26.7],[18.7,26.5],[19.8,26.2],[20.9,26.1],[21.7,25],[22.3,24.3],[23.4,23.9],[23.9,23.1],[23.7,21.8],[24.3,20.9],[26.3,20.3],[27.3,19.5],[27.5,17.9],[28.65,17.3],[29.25,16.5],[29.1,13.2],[28.8,10.5],[28.45,12.9],[28.1,10.1],[27.5,14.1],[27.2,8.8],[26.5,11.3],[26.1,14.3],[25.9,7.75],[25.3,8.3],[24.9,12.6],[24.75,5]],
[[28.1,24.8],[28.1,26.2],[29.2,26.7],[30.5,26.75],[31.6,27.5],[33,28.1],[34.1,27.7],[35,26.5],[36.3,26.1],[38,26.2],[38.8,25.7],[39.4,24.5],[40.7,23.1],[42.4,22.1],[43.5,22.2],[45.7,21.4],[47.3,20.35],[49.5,20.1],[50.9,19.7],[52.3,18.9],[53.3,17],[53.3,14.9],[52.6,12.4],[52.5,7.7]],
[[28.1,24.8],[29.2,24.3],[29.7,23.1],[30.8,22],[32.5,20.15],[33.6,18.9],[34.4,17.95],[35.55,16.4],[36.1,15],[35.9,13.6],[34.8,14.1]],
[[34.75,17.4],[35.55,17.6],[36.3,17.8],[36.7,18.9],[37.3,18.9],[37.9,18.3],[38.5,18.2],[38.5,16.2],[37.5,15.3],[37.9,12],[37.5,5],[36.9,6.3],[36.3,9.8],[36.1,12.3],[35.7,11.3],[35.55,7.95],[34.8,10.8],[34.8,13.5],[34.8,16.1],[34.75,17.4]],
[[39.1,17.45],[39.5,18.1],[40.1,17.6],[40.1,16.4],[39.3,17],[39.1,17.45]],
[[46,17],[45.2,17],[43.8,17.05],[43,17.65],[42.2,16.7],[41.3,16.75],[41.05,17.5]],
[[41.3,16.75],[41.45,14.4],[40.5,10.05],[39.9,14.4],[39.5,8],[38.7,10.8],[38.5,14]],
[[46,17],[46,15],[46.4,12.3],[47.2,9],[47.9,5],[48.3,6.9],[48.8,6.9],[49.5,7.7],[49.7,11.6],[50.3,16.2],[50.3,17.9],[49.2,17.9],[48.7,17.3],[48.1,17.9],[47.6,18.3],[47,17.6],[46.6,16.85]],
[[48.15,17.6],[48.15,15.8],[48.5,13.5],[49.1,11.4],[50.3,13.5],[50.6,9.5],[51.2,12]],
[[46.8,30],[48.4,29.05],[49.5,27.9],[50.9,28.1],[52,27.1],[53.4,24.55],[55.3,22.45],[56.7,20.35],[57.8,18.7],[59.2,17.95],[60,18.05]],
[[57.2,16],[57.8,16.3],[58.2,15.6],[58.6,17],[59.2,16.5],[59.6,17.5],[60,16.2]],
[[57.2,16],[57.4,12],[57.8,7.7],[58.2,8.7],[58.6,5.25],[59.4,7.5],[59.4,11],[60,9.9],[59.4,7.1]],
[[51.3,17.4],[51.55,17.7],[51.85,17.3],[51.8,16.6],[51.4,16.5],[51.3,17.4]]
];
/* thick short contour lobes: month, upper km, lower km */
const lobeMonth=[3.3,4.2,5.4,6.5,22.3,24.7,25.8,25.3,33.8,33.7,9,51.6,45.2,0.1,0.5,58.9];
const lobeUpper=[17.4,17.5,17.7,16,17.9,18.3,18.3,16.8,8.6,16,16,12.2,17,14.4,17.9,10.8];
const lobeLower=[15.5,16.7,16.8,13.5,16.6,17.3,16.8,15.5,6.8,12.7,14.7,9.3,15.3,12,17.3,7.6];
/* dashed contours as [month, altitude km] */
const contourDashed=[
[[1.65,29.8],[.8,28.1],[.3,27.3],[1.65,26.75],[3,27.1],[3,28.75],[1.9,29.9]],
[[3.3,30],[4.1,28.3],[6,26.2],[7.7,24.1],[9.35,22.65],[10.2,21.6],[10.35,20.55],[9.35,20.3],[7.15,20.7],[5.5,21.2],[3.85,22.25],[2.2,23],[1.1,23],[0,22.7]],
[[17.05,29.9],[18.2,28.85],[20.4,29.15],[21.2,28.1],[22.6,26.65],[24.2,25.9],[26.1,26.65],[27.8,28.1],[28.5,29.15],[28.6,30]],
[[34.4,30],[35.2,29.15],[36.6,28.65],[38.5,28.55],[39.6,27.05],[40.7,25.2],[42.4,23.9],[44.3,23.7],[45.7,23.1],[47.05,22.35],[49.8,22.35],[51.2,22],[53.1,20.8],[54.9,19.95],[54.8,21],[53.65,22.9],[52.8,25],[50.6,26.85],[49,27.3],[47.3,28.3],[45.7,29.4],[44,29.9],[42.65,29.8]],
[[28.9,22.35],[28,21.8],[28.6,21.2],[29.5,21.4],[28.9,22.35]]
];
/* lowest altitude reached by the easterly spike at month 30, per panel a..g */
const spikeDepth=[29.6,29.6,28.8,28.8,28.8,28.8,28];

/* ---------- colour levels and layout ---------- */
const jetLevels=["#000080","#00009a","#0000dd","#0022ff","#0055ff","#0099ff","#00bbff","#00ffff","#33ffcc","#66ff99","#99ff66","#ccff33","#ffff00","#ffd000","#ff9900","#ff6600","#ff3300","#f00000","#b00000","#7f0000"];
const diffLevels=["#053061","#144a8a","#2166ac","#2f79b5","#4393c3","#6cacd0","#92c5de","#b8d8ea","#d1e5f0","#eef2f7","#f7f0ec","#fddbc7","#fac8ad","#f4a582","#e8836a","#d6604d","#c5393f","#b2182b","#8e0d25","#67001f"];
const panels=[
{key:'a',label:'(a)',title:'ERA-5: QSPW1,anti  Var(u) [m',col:0,row:0,data:era5Var,kind:'var',mask:false,tw:628},
{key:'b',label:'(b)',title:'ERA-5 minus Aeolus  dVar(u) [m',col:1,row:0,data:era5Diff,kind:'diff',mask:true,tw:671},
{key:'c',label:'(c)',title:'JRA-55:  QSPW1,anti  Var(u) [m',col:0,row:1,data:jra55Var,kind:'var',mask:false,tw:655},
{key:'d',label:'(d)',title:'JRA-55 minus Aeolus  dVar(u) [m',col:1,row:1,data:jra55Diff,kind:'diff',mask:true,tw:690},
{key:'e',label:'(e)',title:'MERRA-2:  QSPW1,anti  Var(u) [m',col:0,row:2,data:merra2Var,kind:'var',mask:false,tw:698},
{key:'f',label:'(f)',title:'MERRA-2 minus Aeolus  dVar(u) [m',col:1,row:2,data:merra2Diff,kind:'diff',mask:true,tw:733},
{key:'g',label:'(g)',title:'Aeolus:  QSPW1,anti  Var(u) [m',col:0,row:3,data:aeolusVar,kind:'var',mask:true,tw:652}
];
const colX=[179,1196],rowY=[75,791.7,1508.3,2225],plotW=723,plotH=554,monthCount=60,zBottom=5,zTop=30;
const svg=document.getElementById('chart');
const NS='http://www.w3.org/2000/svg';
function mk(parent,tag,attrs,txt){
  const el=document.createElementNS(NS,tag);
  for(const k in attrs) el.setAttribute(k,attrs[k]);
  if(txt!==undefined) el.textContent=txt;
  parent.appendChild(el);
  return el;
}
function jetColor(v){return jetLevels[Math.max(0,Math.min(19,Math.floor(v)))];}
function diffColor(v){return diffLevels[Math.max(0,Math.min(19,Math.floor((v+5)*2)))];}

panels.forEach(function(p,pi){
  const left=colX[p.col],top=rowY[p.row];
  const X=function(t){return left+t*plotW/monthCount;};
  const Y=function(z){return top+(zTop-z)*plotH/(zTop-zBottom);};
  const g=mk(svg,'g',{});
  
  

  const lab=mk(g,'text',{x:p.col?1032:14,y:top+25,'font-size':74},p.label);
  
  

  const tx=p.col?1198:180;
  const title=mk(g,'text',{x:tx,y:top-22,'class':'ttl',textLength:p.tw,lengthAdjust:'spacing'});
  
  
  mk(title,'tspan',{},p.title);
  mk(title,'tspan',{'font-size':25,dy:-15},'2');
  mk(title,'tspan',{dy:15},'/s');
  mk(title,'tspan',{'font-size':25,dy:-15},'2');
  mk(title,'tspan',{dy:15},']');

  const yl=mk(g,'text',{transform:'translate('+(left-81)+','+(top+273)+') rotate(-90)','text-anchor':'middle','font-size':38,textLength:208,lengthAdjust:'spacingAndGlyphs'},'altitude [km]');
  
  

  /* plot background */
  const clipId='plot-clip-'+p.key;
  const defs=mk(g,'defs',{});
  const cp=mk(defs,'clipPath',{id:clipId});
  mk(cp,'rect',{x:left,y:top,width:plotW,height:plotH});
  const bg=mk(g,'rect',{x:left,y:top,width:plotW,height:plotH,fill:p.mask?'#bebebe':jetLevels[0]});
  
  

  const heat=mk(g,'g',{});
  
  
  if(p.mask){
    const maskId='coverage-clip-'+p.key;
    const mc=mk(defs,'clipPath',{id:maskId});
    coverageStart.forEach(function(s,i){
      mk(mc,'rect',{x:X(s),y:Y(coverageTop[i]),width:X(coverageEnd[i])-X(s),height:Y(zBottom)-Y(coverageTop[i])});
    });
    heat.setAttribute('clip-path','url(#'+maskId+')');
  } else {
    heat.setAttribute('clip-path','url(#'+clipId+')');
  }
  const color=p.kind==='var'?jetColor:diffColor;
  if(p.mask){
    const base=mk(heat,'rect',{x:left,y:top,width:plotW,height:plotH,fill:color(0)});
    
    
  }
  p.data.forEach(function(profile,m){
    profile.forEach(function(v,i){
      const cell=mk(heat,'rect',{x:X(m),y:Y(zBottom+i+1),width:X(m+1)-X(m)+.4,height:Y(zBottom)-Y(zBottom+1)+.4,fill:color(v)});
      
      
    });
  });

  /* contours */
  const cg=mk(g,'g',{fill:'none',stroke:'#000','stroke-linejoin':'round','stroke-linecap':'round','clip-path':'url(#'+clipId+')'});
  
  
  const toPts=function(line){return line.map(function(q){return X(q[0]).toFixed(1)+','+Y(q[1]).toFixed(1);}).join(' ');};
  contourSolid.forEach(function(line){
    const c=mk(cg,'polyline',{points:toPts(line),'stroke-width':5.4});
    
    
  });
  const spike=mk(cg,'polyline',{points:toPts([[29.4,30],[30.3,spikeDepth[pi]],[31,30]]),'stroke-width':5.4});
  
  
  lobeMonth.forEach(function(t,i){
    const c=mk(cg,'line',{x1:X(t),x2:X(t),y1:Y(lobeUpper[i]),y2:Y(lobeLower[i]),'stroke-width':9});
    
    
  });
  contourDashed.forEach(function(line){
    const c=mk(cg,'polyline',{points:toPts(line),'stroke-width':3.8,'stroke-dasharray':'12 8','stroke-linecap':'butt'});
    
    
  });

  /* ticks */
  const tg=mk(g,'g',{stroke:'#000','stroke-width':2.4});
  
  
  for(let t=0;t<=monthCount;t+=2){
    mk(tg,'line',{x1:X(t),x2:X(t),y1:top,y2:top+10});
    mk(tg,'line',{x1:X(t),x2:X(t),y1:top+plotH,y2:top+plotH-10});
  }
  for(let z=zBottom;z<=zTop;z++){
    const len=z%5===0?15:8;
    mk(tg,'line',{x1:left,x2:left+len,y1:Y(z),y2:Y(z)});
    mk(tg,'line',{x1:left+plotW,x2:left+plotW-len,y1:Y(z),y2:Y(z)});
  }

  /* frame with month and year strip */
  const frame=mk(g,'rect',{x:left,y:top,width:plotW,height:642,fill:'none',stroke:'#000','stroke-width':2.6});
  
  
  const axisLine=mk(g,'line',{x1:left,x2:left+plotW,y1:top+plotH,y2:top+plotH,stroke:'#000','stroke-width':2.6});
  
  

  altitudeTicks.forEach(function(z){
    const t=mk(g,'text',{x:left-9,y:Y(z)+(z===zTop?16:13),'text-anchor':'end','font-size':38},String(z));
    
    
  });
  yearLabels.forEach(function(yr,i){
    monthLabels.forEach(function(ml,j){
      const t=mk(g,'text',{x:X(i*12+j*2),y:top+584,'text-anchor':'middle','font-size':27},ml);
      
      
    });
    const yt=mk(g,'text',{x:X(i*12+6.1),y:top+626,'text-anchor':'middle','font-size':38},yr);
    
    
    if(i>0){
      const d=mk(g,'line',{x1:X(i*12),x2:X(i*12),y1:top+593,y2:top+642,stroke:'#000','stroke-width':2.6});
      
      
    }
  });

  /* colour bar */
  const barX=left+(p.col?757:758),barW=43,barTop=top+148,barH=297;
  const levels=p.kind==='var'?jetLevels:diffLevels;
  const bar=mk(g,'g',{});
  
  
  levels.forEach(function(c,i){
    const seg=mk(bar,'rect',{x:barX,y:barTop+barH-(i+1)*barH/20,width:barW,height:barH/20+.4,fill:c});
    
    
  });
  mk(bar,'rect',{x:barX,y:barTop,width:barW,height:barH,fill:'none',stroke:'#000','stroke-width':3});
  const lo=p.kind==='var'?0:-5,hi=p.kind==='var'?20:5;
  const barY=function(v){return barTop+barH*(hi-v)/(hi-lo);};
  (p.kind==='var'?varBarTicks:diffBarTicks).forEach(function(v){
    if(v!==lo&&v!==hi) mk(bar,'line',{x1:barX,x2:barX+barW,y1:barY(v),y2:barY(v),stroke:'#000','stroke-width':3});
    const cy=Math.min(barTop+285,Math.max(barTop+12,barY(v)));
    const shift=p.kind==='var'?0:(v>0?1:(v<0?-1:0));
    const lbl=mk(g,'text',{x:barX+barW+(p.kind==='var'?11:14),y:cy+shift*.5+11,'font-size':32},v<0?'\u2212'+Math.abs(v):String(v));
    
    
  });
});
</script>
</body>
</html>
